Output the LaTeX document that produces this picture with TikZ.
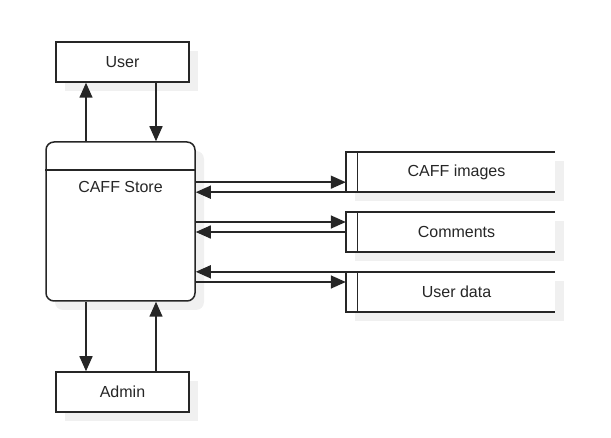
\documentclass[tikz,border=0pt]{standalone}
\usepackage{fontspec}
\setmainfont{Liberation Sans}
\usetikzlibrary{arrows.meta,shadows}

\tikzset{
  wire/.style={draw=black!85, line width=1.5pt},
  flow/.style={wire, -{Triangle[length=15pt,width=13pt]}},
  shadowed/.style={drop shadow={shadow xshift=9pt, shadow yshift=-9pt, fill=black!6, opacity=1}},
  entity/.style={wire, fill=white, shadowed, minimum width=133pt, minimum height=40pt,
    inner sep=0pt, font=\fontsize{16}{19}\selectfont, text=black!85},
  process/.style={entity, rounded corners=8pt, minimum width=149pt, minimum height=159pt},
  datastore/.style={fill=white, shadowed, minimum width=209pt, minimum height=40pt, inner sep=0pt},
  storelabel/.style={font=\fontsize{16}{19}\selectfont, text=black!85},
}

\begin{document}
\begin{tikzpicture}[x=1pt,y=-1pt]
  \useasboundingbox (0,0) rectangle (611,438);
  \node[entity] (user) at (122.5,62) {User};
  \node[process] (store) at (120.5,221.5) {};
  \node[entity] (admin) at (122.5,392) {Admin};
  \node[datastore] (images) at (450.5,172) {};
  \node[datastore] (comments) at (450.5,232) {};
  \node[datastore] (userdata) at (450.5,292) {};

  % process header
  \draw[wire] ([yshift=-29pt]store.north west) -- ([yshift=-29pt]store.north east);
  \node[storelabel] (storename) at ([yshift=-46pt]store.north) {CAFF Store};

  % data stores
  \foreach \s/\t in {images/CAFF images, comments/Comments, userdata/User data} {
    \draw[wire] (\s.north east) -- (\s.north west) -- (\s.south west) -- (\s.south east);
    \draw[wire, line width=0.8pt] ([xshift=12pt]\s.north west) -- ([xshift=12pt]\s.south west);
    \node[storelabel] (\s-name) at ([xshift=6pt]\s.center) {\t};
  }

  % flows
  \coordinate (up) at (86,0);
  \coordinate (down) at (156,0);
  \coordinate (images-out) at ([yshift=10pt]images.south west);
  \coordinate (comments-out) at ([yshift=10pt]comments.west);
  \coordinate (userdata-out) at ([yshift=10pt]userdata.west);
  \begin{scope}
    \draw[flow] (store.north -| up) to (user.south -| up);
    \draw[flow] (user.south -| down) to (store.north -| down);
    \draw[flow] (store.south -| up) to (admin.north -| up);
    \draw[flow] (admin.north -| down) to (store.south -| down);
    \draw[flow] (store.east |- images-out) to (images-out);
    \draw[flow] (images.south west) to (store.east |- images.south west);
    \draw[flow] (store.east |- comments-out) to (comments-out);
    \draw[flow] (comments.west) to (store.east |- comments.west);
    \draw[flow] (userdata.north west) to (store.east |- userdata.north west);
    \draw[flow] (store.east |- userdata-out) to (userdata-out);
  \end{scope}
\end{tikzpicture}
\end{document}
